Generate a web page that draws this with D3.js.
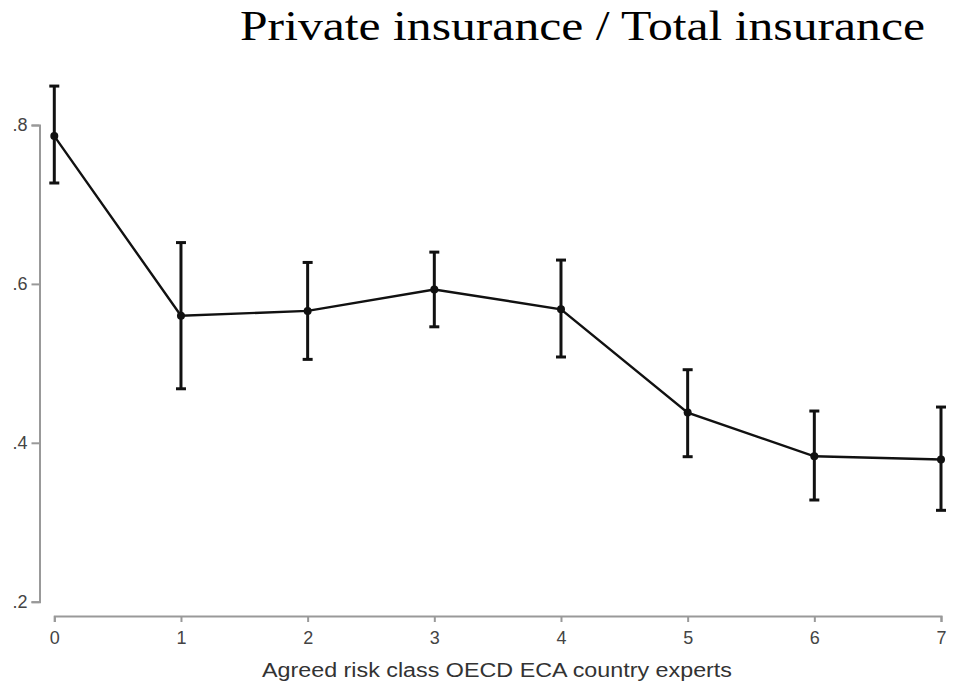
<!DOCTYPE html>
<html>
<head>
<meta charset="utf-8">
<script src="https://cdn.jsdelivr.net/npm/d3@7"></script>
<style>
  body { margin: 0; background: #fff; }
  svg { display: block; }
</style>
</head>
<body>
<svg id="chart"></svg>
<script>
// chart size
const width = 960, height = 689;

// risk classes and the estimates
const riskClass = [0, 1, 2, 3, 4, 5, 6, 7];
const share = [0.786, 0.560, 0.566, 0.593, 0.568, 0.438, 0.383, 0.379];
const ciHigh = [0.849, 0.652, 0.627, 0.640, 0.630, 0.492, 0.440, 0.445];
const ciLow = [0.727, 0.468, 0.505, 0.546, 0.508, 0.3825, 0.328, 0.315];
const yTicks = [0.2, 0.4, 0.6, 0.8];

const points = riskClass.map((c, i) => ({ c, v: share[i], hi: ciHigh[i], lo: ciLow[i] }));

const svg = d3.select('#chart').attr('width', width).attr('height', height);

const x = d3.scaleLinear().domain([0, 7]).range([54.3, 941]);
const y = d3.scaleLinear().domain([0.2, 0.8]).range([601.7, 125]);

// title (the source picture is stretched sideways a little)
svg.append('text')
  .attr('x', 240)
  .attr('y', 40)
  .attr('textLength', 685)
  .attr('lengthAdjust', 'spacingAndGlyphs')
  .attr('font-family', '"Liberation Serif", "Times New Roman", serif')
  .attr('font-size', 43)
  .attr('fill', '#000')
  .text('Private insurance / Total insurance');

// y axis
const yAxis = svg.append('g')
  .attr('transform', 'translate(39.5,0)')
  .call(d3.axisLeft(y).tickValues(yTicks).tickSize(8).tickPadding(4)
    .tickFormat(d => d3.format('.1f')(d).replace(/^0/, '')));

// x axis
const xAxis = svg.append('g')
  .attr('transform', 'translate(0,616)')
  .call(d3.axisBottom(x).tickValues(riskClass).tickSize(6).tickPadding(9)
    .tickFormat(d3.format('d')));

[yAxis, xAxis].forEach(g => {
  g.select('.domain').attr('stroke', '#999').attr('stroke-width', 2);
  g.selectAll('.tick line').attr('stroke', '#999').attr('stroke-width', 2);
  g.selectAll('.tick text')
    .attr('fill', '#444')
    .attr('font-family', '"Liberation Sans", Arial, sans-serif')
    .attr('font-size', 18);
});

// x axis title
svg.append('text')
  .attr('x', 262)
  .attr('y', 677)
  .attr('textLength', 470)
  .attr('lengthAdjust', 'spacingAndGlyphs')
  .attr('font-family', '"Liberation Sans", Arial, sans-serif')
  .attr('font-size', 20)
  .attr('fill', '#333')
  .text('Agreed risk class OECD ECA country experts');

// connecting line
const line = d3.line().x(d => x(d.c)).y(d => y(d.v));
svg.append('path')
  .datum(points)
  .attr('fill', 'none')
  .attr('stroke', '#111')
  .attr('stroke-width', 2.4)
  .attr('d', line);

// error bars
const bars = svg.append('g').attr('stroke', '#111').attr('stroke-width', 3);
bars.selectAll('line.whisker')
  .data(points)
  .enter()
  .append('line')
  .attr('class', 'whisker')
  .attr('x1', d => x(d.c)).attr('x2', d => x(d.c))
  .attr('y1', d => y(d.hi)).attr('y2', d => y(d.lo));

['hi', 'lo'].forEach(k => {
  bars.selectAll('line.cap-' + k)
    .data(points)
    .enter()
    .append('line')
    .attr('class', 'cap-' + k)
    .attr('x1', d => x(d.c) - 5).attr('x2', d => x(d.c) + 5)
    .attr('y1', d => y(d[k])).attr('y2', d => y(d[k]));
});

// markers
svg.selectAll('circle')
  .data(points)
  .enter()
  .append('circle')
  .attr('cx', d => x(d.c))
  .attr('cy', d => y(d.v))
  .attr('r', 4)
  .attr('fill', '#111');
</script>
</body>
</html>
